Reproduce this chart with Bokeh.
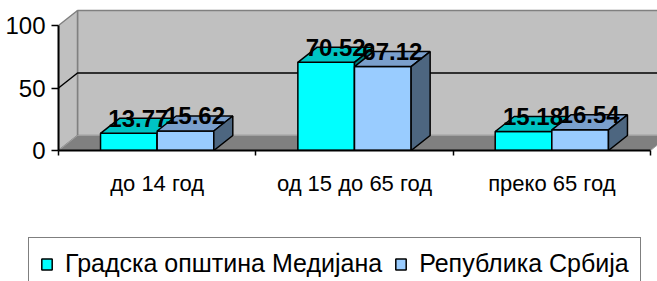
from bokeh.plotting import figure
from bokeh.models import ColumnDataSource, FixedTicker, Legend, LegendItem, Range1d
from bokeh.core.properties import value
from bokeh.embed import file_html
from bokeh.resources import INLINE

# ---- data ----
categories = ["до 14 год", "од 15 до 65 год", "преко 65 год"]
series_names = ["Градска општина Медијана", "Република Србија"]
mediana = [13.77, 70.52, 15.18]
srbija = [15.62, 67.12, 16.54]
y_ticks = [0, 50, 100]

# ---- style ----
FRONT = ["#00FFFF", "#99CCFF"]
TOP = ["#00C4C4", "#7A9FCC"]
SIDE = ["#007F7F", "#4D6680"]
WALL = "#C0C0C0"
FLOOR = "#808080"
EDGE = "#808080"
DX = 0.0963   # 3-D depth offset (x units)
DY = 12.0     # 3-D depth offset (y units)
BAR_W = 0.287
n = len(categories)
YMAX = y_ticks[-1]

p = figure(width=657, height=236,
           x_range=Range1d(0, 3.0355), y_range=Range1d(0, 120),
           output_backend="svg", toolbar_location=None,
           min_border_left=58, min_border_right=0, min_border_top=0,
           min_border_bottom=86)
p.grid.visible = False
p.outline_line_color = None
p.background_fill_color = "white"
p.border_fill_color = "white"

# walls and floor
p.quad(left=DX, right=n + DX, bottom=DY, top=YMAX + DY,
       fill_color=WALL, line_color=EDGE, line_width=1.5)
p.patch([0, 0, DX, DX], [0, YMAX, YMAX + DY, DY],
        fill_color=WALL, line_color=EDGE, line_width=1.5)
p.patch([0, n, n + DX, DX], [0, 0, DY, DY],
        fill_color=FLOOR, line_color="#A0A0A0", line_width=1)

# gridlines on side and back wall
for t in y_ticks[1:-1]:
    p.line([0, DX, n + DX], [t, t + DY, t + DY], line_color="black", line_width=1.5)

# bars
offsets = [-BAR_W / 2, BAR_W / 2]
series_vals = [mediana, srbija]
label_x, label_y, label_t = [], [], []
for s, vals in enumerate(series_vals):
    xc = [i + 0.5 + offsets[s] for i in range(n)]
    src = ColumnDataSource(dict(x=xc, top=vals))
    p.vbar(x="x", top="top", bottom=0, width=BAR_W, source=src,
           fill_color=FRONT[s], line_color="black", line_width=1.5)
    tx = [[x - BAR_W / 2, x + BAR_W / 2, x + BAR_W / 2 + DX, x - BAR_W / 2 + DX] for x in xc]
    ty = [[v, v, v + DY, v + DY] for v in vals]
    p.patches(tx, ty, fill_color=TOP[s], line_color="black", line_width=1.5)
    sx = [[x + BAR_W / 2, x + BAR_W / 2 + DX, x + BAR_W / 2 + DX, x + BAR_W / 2] for x in xc]
    sy = [[0, DY, v + DY, v] for v in vals]
    p.patches(sx, sy, fill_color=SIDE[s], line_color="black", line_width=1.5)
    label_x += [x + DX / 2 for x in xc]
    label_y += [v + DY for v in vals]
    label_t += [f"{v:.2f}" for v in vals]

p.text(label_x, label_y, text=label_t, text_align="center", text_baseline="middle",
       text_font=value("Liberation Sans"), text_font_style="bold",
       text_font_size="24px", text_color="black")

# axes
yax = p.yaxis[0]
yax.ticker = FixedTicker(ticks=y_ticks)
yax.bounds = (0, YMAX)
yax.axis_line_width = 2
yax.axis_line_color = "black"
yax.major_tick_out = 7
yax.major_tick_in = 0
yax.major_tick_line_width = 1.5
yax.minor_tick_line_color = None
yax.major_label_text_font = "Liberation Sans"
yax.major_label_text_font_size = "24px"
yax.major_label_text_color = "black"
yax.major_label_standoff = 6

xax = p.xaxis[0]
xax.ticker = FixedTicker(ticks=[i + 0.5 for i in range(n)], minor_ticks=list(range(n + 1)))
xax.major_label_overrides = {i + 0.5: c for i, c in enumerate(categories)}
xax.bounds = (0, n)
xax.axis_line_width = 2
xax.axis_line_color = "black"
xax.major_tick_out = 0
xax.major_tick_in = 0
xax.minor_tick_out = 5
xax.minor_tick_in = 0
xax.minor_tick_line_width = 1.5
xax.minor_tick_line_color = "black"
xax.major_label_text_font = "Liberation Sans"
xax.major_label_text_font_size = "22px"
xax.major_label_text_color = "black"
xax.major_label_standoff = 15

# legend strip (bottom edge of the legend box is cut off, as in the original)
p2 = figure(width=657, height=45, x_range=Range1d(0, n), y_range=Range1d(1000, 1001),
            x_axis_type=None, y_axis_type=None,
            output_backend="svg", toolbar_location=None,
            min_border_left=0, min_border_right=0, min_border_top=0, min_border_bottom=0)
p2.grid.visible = False
p2.outline_line_color = None
p2.background_fill_color = "white"
p2.border_fill_color = "white"
legend_renderers = []
for s, vals in enumerate(series_vals):
    # same series, out of this strip's view: only their legend swatches show
    r = p2.vbar(x=[i + 0.5 for i in range(n)], top=vals, bottom=0, width=BAR_W,
                fill_color=FRONT[s], line_color="black", line_width=1.5)
    legend_renderers.append(r)
legend = Legend(
    items=[LegendItem(label=series_names[s], renderers=[legend_renderers[s]]) for s in range(2)],
    orientation="horizontal", location=(28, -9),
    label_text_font="Liberation Sans", label_text_font_size="25px",
    label_text_color="black",
    glyph_width=13, glyph_height=14, label_standoff=12, spacing=12,
    padding=11, label_height=26, margin=0,
    border_line_color="black", border_line_width=1.5,
    background_fill_color="white", background_fill_alpha=1.0)
p2.add_layout(legend)

open("out.html", "w").write(file_html([p, p2], INLINE))
